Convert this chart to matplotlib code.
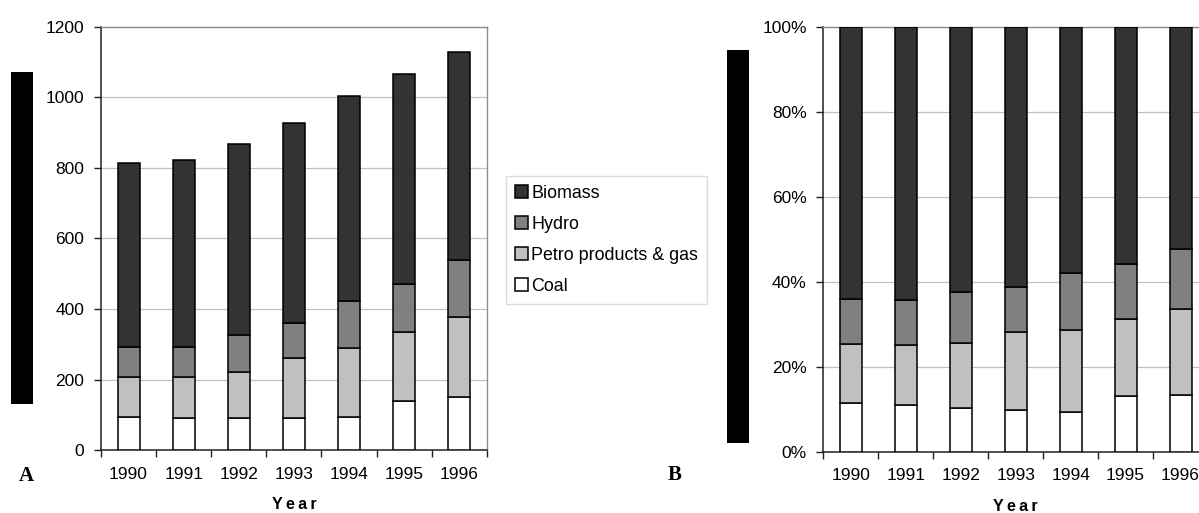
import numpy as np
import matplotlib
matplotlib.use("Agg")
import matplotlib.pyplot as plt
from matplotlib import font_manager
from matplotlib.patches import Rectangle, Patch
from matplotlib.ticker import FuncFormatter, FixedLocator

# Energy consumption by source, 1990-1996
years = ["1990", "1991", "1992", "1993", "1994", "1995", "1996"]
coal = [94, 90, 90, 90, 94, 139, 151]
petro = [112, 116, 131, 172, 194, 195, 227]
hydro = [87, 87, 106, 97, 134, 137, 161]
biomass = [520, 530, 541, 569, 583, 596, 589]

series_names = ["Coal", "Petro products & gas", "Hydro", "Biomass"]
series_colors = ["#ffffff", "#c0c0c0", "#808080", "#333333"]

available = {f.name for f in font_manager.fontManager.ttflist}
tick_family = ["Liberation Sans Narrow" if "Liberation Sans Narrow" in available else "Liberation Sans", "DejaVu Sans"]
text_family = ["Liberation Sans", "DejaVu Sans"]
serif_family = ["Liberation Serif", "DejaVu Serif"]

W, H = 1199, 513
fig = plt.figure(figsize=(W / 100, H / 100), dpi=100)


def fx(px):
    return px / W


def fy(py):
    return 1 - py / H


def style_axes(ax, ymax, yticks, fmt):
    n = len(years)
    ax.set_xlim(0, n)
    ax.set_ylim(0, ymax)
    ax.set_axisbelow(True)
    ax.yaxis.grid(True, color="#c0c0c0", linewidth=0.9)
    ax.set_yticks(yticks)
    ax.yaxis.set_major_formatter(FuncFormatter(fmt))
    ax.xaxis.set_major_locator(FixedLocator(np.arange(0, n + 1)))
    ax.xaxis.set_minor_locator(FixedLocator(np.arange(n) + 0.5))
    ax.set_xticklabels([], minor=False)
    ax.set_xticklabels(years, minor=True, fontsize=12.5, family=tick_family)
    ax.tick_params(axis="x", which="major", length=5, width=1.0, color="#202020", direction="out")
    ax.tick_params(axis="x", which="minor", length=0, pad=12)
    ax.tick_params(axis="y", length=5, width=1.0, color="#202020", direction="out", pad=7,
                   labelsize=12.5)
    for lab in ax.get_yticklabels():
        lab.set_family(tick_family)
    for side in ("left", "bottom"):
        ax.spines[side].set_color("#202020")
        ax.spines[side].set_linewidth(1.1)
    for side in ("top", "right"):
        ax.spines[side].set_color("#8c8c8c")
        ax.spines[side].set_linewidth(1.0)
    ax.set_xlabel("Y\u2009e\u2009a\u2009r", fontsize=11.5, fontweight="bold",
                  family=text_family, labelpad=11)


def stacked(ax, layers):
    x = np.arange(len(years)) + 0.5
    bottom = np.zeros(len(years))
    for vals, color in zip(layers, series_colors):
        vals = np.asarray(vals, dtype=float)
        ax.bar(x, vals, width=0.4, bottom=bottom, color=color, edgecolor="black",
               linewidth=1.1, zorder=3)
        bottom += vals


# Panel A: absolute values
axA = fig.add_axes([fx(101), fy(450), fx(486.7 - 101), (450 - 27) / H])
stacked(axA, [coal, petro, hydro, biomass])
style_axes(axA, 1200, np.arange(0, 1201, 200), lambda v, p: f"{int(v)}")

# Panel B: shares of the yearly total
totals = np.array(coal) + np.array(petro) + np.array(hydro) + np.array(biomass)
shares = [np.array(s) / totals for s in (coal, petro, hydro, biomass)]
axB = fig.add_axes([fx(823.3), fy(451.7), fx(1208 - 823.3), (451.7 - 26.7) / H])
stacked(axB, shares)
style_axes(axB, 1.0, np.arange(0, 1.01, 0.2), lambda v, p: f"{int(round(v * 100))}%")

# Legend shared by both panels
handles = [Patch(facecolor=c, edgecolor="black", linewidth=1.1, label=n)
           for n, c in zip(series_names, series_colors)][::-1]
leg = fig.legend(handles=handles, loc="upper left",
                 bbox_to_anchor=(fx(505.7), fy(175.7)), bbox_transform=fig.transFigure,
                 prop={"family": text_family, "size": 12.9}, frameon=True, fancybox=False,
                 handlelength=0.72, handleheight=0.72, handletextpad=0.2,
                 labelspacing=0.78, borderpad=0.5, borderaxespad=0)
leg.get_frame().set_edgecolor("#d4d4d4")
leg.get_frame().set_linewidth(1.0)

# Vertical axis title blocks
for x0, x1, y0, y1 in [(11.3, 33, 72, 404.3), (727.3, 749, 50, 443.3)]:
    fig.patches.append(Rectangle((fx(x0), fy(y1)), fx(x1 - x0), (y1 - y0) / H,
                                 transform=fig.transFigure, facecolor="black",
                                 edgecolor="none"))

# Panel letters
fig.text(fx(26), fy(476), "A", family=serif_family, fontweight="bold", fontsize=15,
         ha="center", va="center")
fig.text(fx(674.5), fy(475.5), "B", family=serif_family, fontweight="bold", fontsize=15,
         ha="center", va="center")

fig.savefig("out.png", dpi=100)
